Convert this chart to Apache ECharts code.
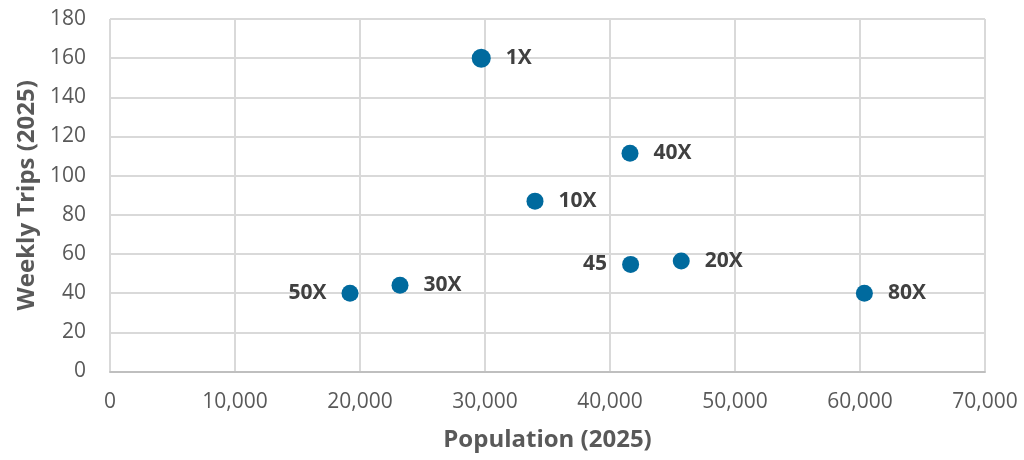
<!DOCTYPE html>
<html>
<head>
<meta charset="utf-8">
<script src="https://cdn.jsdelivr.net/npm/echarts@6/dist/echarts.min.js"></script>
<style>
  html, body { margin: 0; padding: 0; background: #ffffff; }
  #chart { width: 1024px; height: 460px; }
</style>
</head>
<body>
<div id="chart"></div>
<script>
// Route labels, population and weekly trips per route
const routes = ['1X', '10X', '40X', '45', '20X', '80X', '50X', '30X'];
const population = [29700, 34000, 41600, 41650, 45700, 60350, 19200, 23200];
const weeklyTrips = [160, 87, 111.5, 54.7, 56.4, 40, 40, 44];
// Labels drawn to the left of their point
const leftLabels = ['45', '50X'];

const xTicks = { min: 0, max: 70000, interval: 10000 };
const yTicks = { min: 0, max: 180, interval: 20 };

const data = routes.map((name, i) => ({
  name: name,
  value: [population[i], weeklyTrips[i]],
  symbolSize: name === '1X' ? 19 : 17,
  label: { position: leftLabels.includes(name) ? 'left' : 'right' }
}));

const chart = echarts.init(document.getElementById('chart'));
const textGray = '#595959';
chart.setOption({
  animation: false,
  grid: { left: 110, right: 39, top: 19, bottom: 88.5, containLabel: false, outerBoundsMode: 'none' },
  xAxis: {
    type: 'value',
    min: xTicks.min, max: xTicks.max, interval: xTicks.interval,
    name: 'Population (2025)',
    nameLocation: 'middle',
    nameGap: 57,
    nameTextStyle: { fontFamily: 'Open Sans', fontWeight: 'bold', fontSize: 24, color: textGray },
    axisLine: { show: true, lineStyle: { color: '#bfbfbf', width: 2 } },
    axisTick: { show: false },
    axisLabel: {
      fontFamily: 'Open Sans', fontSize: 21, color: textGray, margin: 20,
      formatter: v => v.toLocaleString('en-US')
    },
    splitLine: { show: true, lineStyle: { color: '#d9d9d9', width: 2 } }
  },
  yAxis: {
    type: 'value',
    min: yTicks.min, max: yTicks.max, interval: yTicks.interval,
    name: 'Weekly Trips (2025)',
    nameLocation: 'middle',
    nameGap: 70,
    nameTextStyle: { fontFamily: 'Open Sans', fontWeight: 'bold', fontSize: 24, color: textGray },
    axisLine: { show: false },
    axisTick: { show: false },
    axisLabel: { fontFamily: 'Open Sans', fontSize: 21, color: textGray, margin: 24 },
    splitLine: { show: true, lineStyle: { color: '#d9d9d9', width: 2 } }
  },
  series: [{
    type: 'scatter',
    symbol: 'circle',
    itemStyle: { color: '#006a9e', opacity: 1 },
    label: {
      show: true,
      formatter: p => p.name,
      fontFamily: 'Open Sans', fontWeight: 'bold', fontSize: 21, color: '#404040',
      distance: 15
    },
    data: data
  }]
});
</script>
</body>
</html>
